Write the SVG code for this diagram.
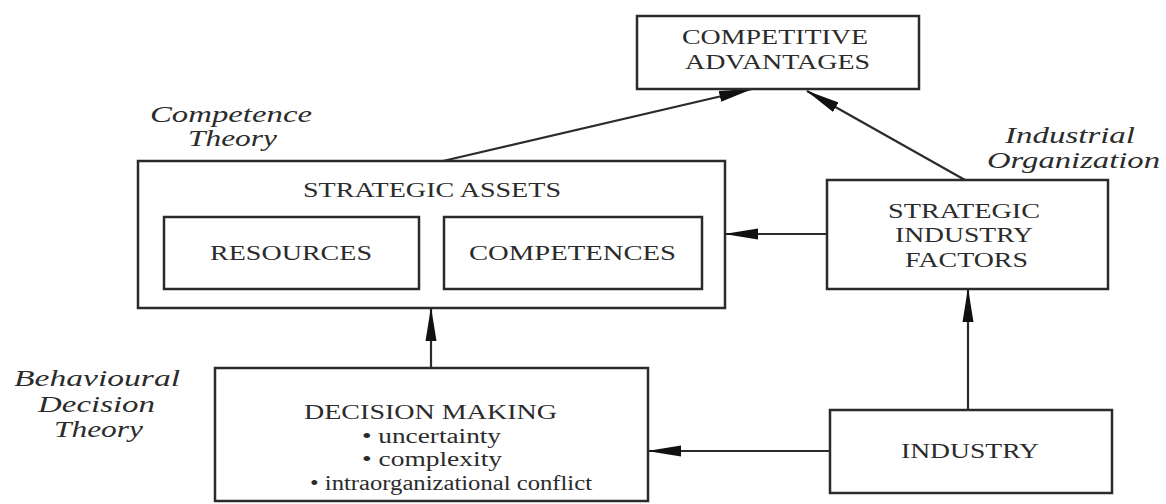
<svg xmlns="http://www.w3.org/2000/svg" width="1166" height="504" viewBox="0 0 1166 504">
<style>
.box{fill:none;stroke:#2b2b2b;stroke-width:2.5}
.t{font-family:"Liberation Serif","Times New Roman",serif;font-size:20px;fill:#2b2b2b}
.i{font-family:"Liberation Serif","Times New Roman",serif;font-size:24px;font-style:italic;fill:#2b2b2b}
.c{fill:none;stroke:#2b2b2b;stroke-width:2.2;marker-end:url(#ah)}
</style>
<defs>
<marker id="ah" markerUnits="userSpaceOnUse" markerWidth="34" markerHeight="12" viewBox="0 0 34 12" refX="33" refY="6" orient="auto">
<path d="M0,0.5 L34,6 L0,11.5 Z" fill="#111"/>
</marker>
</defs>
<rect width="1166" height="504" fill="#fff"/>
<g id="labels">
<text class="i" x="150" y="122" textLength="162" lengthAdjust="spacingAndGlyphs">Competence</text>
<text class="i" x="188" y="146" textLength="89" lengthAdjust="spacingAndGlyphs">Theory</text>
<text class="i" x="1005" y="143" textLength="130" lengthAdjust="spacingAndGlyphs">Industrial</text>
<text class="i" x="987" y="168" textLength="173" lengthAdjust="spacingAndGlyphs">Organization</text>
<text class="i" x="14" y="386" textLength="166" lengthAdjust="spacingAndGlyphs">Behavioural</text>
<text class="i" x="38" y="412" textLength="117" lengthAdjust="spacingAndGlyphs">Decision</text>
<text class="i" x="54" y="437" textLength="89" lengthAdjust="spacingAndGlyphs">Theory</text>
</g>
<g id="connectors">
<path class="c" d="M443,161 L752,89"/>
<path class="c" d="M965,180 L807,91"/>
<path class="c" d="M827,234 L725,234"/>
<path class="c" d="M431,368 L431,308"/>
<path class="c" d="M968,410 L968,289"/>
<path class="c" d="M830,451 L648,451"/>
</g>
<g id="competitive-advantages">
<rect class="box" x="637" y="16" width="282" height="73"/>
<text class="t" x="682" y="44" textLength="186" lengthAdjust="spacingAndGlyphs">COMPETITIVE</text>
<text class="t" x="685" y="69" textLength="185" lengthAdjust="spacingAndGlyphs">ADVANTAGES</text>
</g>
<g id="strategic-assets">
<rect class="box" x="138" y="161" width="587" height="147"/>
<text class="t" x="303" y="197" font-size="21" textLength="258" lengthAdjust="spacingAndGlyphs">STRATEGIC ASSETS</text>
</g>
<g id="resources">
<rect class="box" x="164" y="217" width="255" height="72"/>
<text class="t" x="210" y="260" textLength="162" lengthAdjust="spacingAndGlyphs">RESOURCES</text>
</g>
<g id="competences">
<rect class="box" x="444" y="217" width="258" height="72"/>
<text class="t" x="469" y="260" textLength="207" lengthAdjust="spacingAndGlyphs">COMPETENCES</text>
</g>
<g id="strategic-industry-factors">
<rect class="box" x="827" y="180" width="281" height="109"/>
<text class="t" x="888" y="218" textLength="152" lengthAdjust="spacingAndGlyphs">STRATEGIC</text>
<text class="t" x="895" y="242" textLength="138" lengthAdjust="spacingAndGlyphs">INDUSTRY</text>
<text class="t" x="905" y="267" textLength="123" lengthAdjust="spacingAndGlyphs">FACTORS</text>
</g>
<g id="decision-making">
<rect class="box" x="215" y="368" width="433" height="133"/>
<text class="t" x="304" y="419" textLength="253" lengthAdjust="spacingAndGlyphs">DECISION MAKING</text>
<text class="t" x="362" y="443" textLength="139" lengthAdjust="spacingAndGlyphs">• uncertainty</text>
<text class="t" x="362" y="466" textLength="140" lengthAdjust="spacingAndGlyphs">• complexity</text>
<text class="t" x="310" y="490" textLength="282" lengthAdjust="spacingAndGlyphs">• intraorganizational conflict</text>
</g>
<g id="industry">
<rect class="box" x="830" y="410" width="282" height="83"/>
<text class="t" x="901" y="458" textLength="138" lengthAdjust="spacingAndGlyphs">INDUSTRY</text>
</g>
</svg>
